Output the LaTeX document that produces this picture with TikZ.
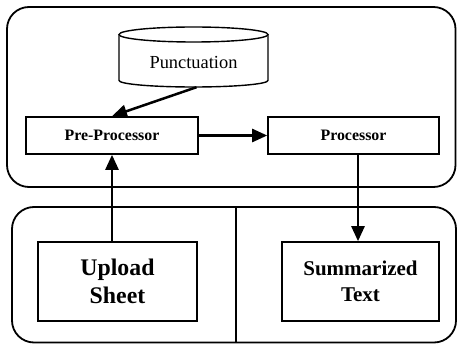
\documentclass[tikz,border=0pt]{standalone}
\usepackage{fontspec}
\setmainfont{Liberation Serif}
\usetikzlibrary{arrows.meta}
\begin{document}
\begin{tikzpicture}[x=1pt,y=-1pt,
  panel/.style={draw,line width=1.8pt,rounded corners=22pt},
  box/.style={draw,line width=1.6pt,inner sep=0pt},
  arr/.style={draw,line width=2.5pt,-{Triangle[length=15pt,width=13pt]}},
  small/.style={font=\fontsize{15.9}{18}\selectfont\bfseries},
  big/.style={align=center}
]
\useasboundingbox (0,0) rectangle (457,344);
% panels
\draw[panel] (7,7) rectangle (455.5,187);
\draw[panel] (12,207) rectangle (456,342.5);
\coordinate (divtop) at (236,207);
\coordinate (divbot) at (236,342.5);
\draw[line width=1.6pt] (divtop) -- (divbot);
% cylinder
\draw[line width=1.4pt] (193.5,34.5) ellipse [x radius=74.5, y radius=7.5];
\draw[line width=1.4pt] (119,34.5) -- (119,80.5) arc[start angle=180,end angle=0,x radius=74.5,y radius=6.5] -- (268,34.5);
\node[inner sep=0pt,minimum width=149pt,minimum height=60pt] (cyl) at (193.5,57) {};
\node[font=\fontsize{18.4}{20}\selectfont] at (193.5,63) {Punctuation};
% boxes
\node[box,small,minimum width=172pt,minimum height=37pt] (pre) at (112,135.5) {Pre-Processor};
\node[box,small,minimum width=171pt,minimum height=37pt] (proc) at (353.5,135.5) {Processor};
\node[box,big,minimum width=159pt,minimum height=79pt,font=\fontsize{23.8}{28}\selectfont\bfseries] (up) at (117.5,281.5) {Upload\\Sheet};
\node[box,big,minimum width=157pt,minimum height=79pt,font=\fontsize{21}{26}\selectfont\bfseries] (summ) at (360.5,281.5) {Summarized\\Text};
% arrows
\path[arr] ([xshift=3pt]cyl.south) -- (pre.north);
\path[arr] (pre.east) -- (proc.west);
\path[arr] (up.north -| pre.south) -- (pre.south);
\path[arr] ([xshift=4.5pt]proc.south) -- ([xshift=4.5pt]proc.south |- summ.north);
\end{tikzpicture}
\end{document}
